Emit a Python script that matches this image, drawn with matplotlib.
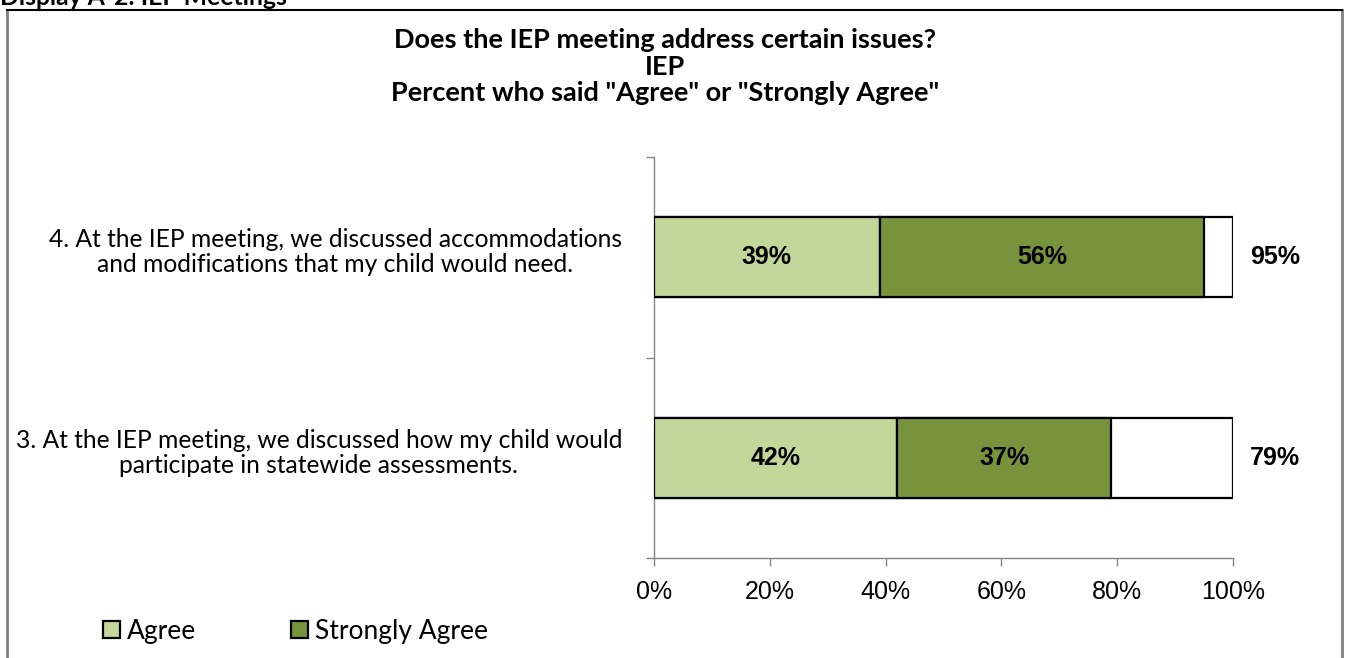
import matplotlib
matplotlib.use("Agg")
import matplotlib.pyplot as plt
from matplotlib.patches import Patch
from matplotlib.lines import Line2D
from matplotlib.transforms import blended_transform_factory

# Survey items (bottom to top) and their response shares
items = [
    "3. At the IEP meeting, we discussed how my child would\nparticipate in statewide assessments.",
    "4. At the IEP meeting, we discussed accommodations\nand modifications that my child would need.",
]
agree = [0.42, 0.39]
strongly_agree = [0.37, 0.56]
xticks = [0, 0.2, 0.4, 0.6, 0.8, 1.0]
xtick_labels = ["0%", "20%", "40%", "60%", "80%", "100%"]
title_lines = ["Does the IEP meeting address certain issues?", "IEP",
               "Percent who said \"Agree\" or \"Strongly Agree\""]

light_green = "#C4D79B"
dark_green = "#77933C"
axis_gray = "#868686"
calibri_like = "Lato"
arial_like = "Liberation Sans"

W, H = 1347, 658
fig = plt.figure(figsize=(W / 100, H / 100), dpi=100)
fig.patch.set_facecolor("white")

ax = fig.add_axes([654 / W, 1 - 558 / H, 579 / W, 401 / H])

ypos = list(range(len(items)))
totals = [a + s for a, s in zip(agree, strongly_agree)]

# full-width white bar behind the stacked segments
ax.barh(ypos, [1.0] * len(items), height=0.4, color="white", edgecolor="black", linewidth=1.6, zorder=2)
ax.barh(ypos, agree, height=0.4, color=light_green, edgecolor="black", linewidth=1.6, zorder=3)
ax.barh(ypos, strongly_agree, left=agree, height=0.4, color=dark_green, edgecolor="black", linewidth=1.6, zorder=3)

for y, a, s, t in zip(ypos, agree, strongly_agree, totals):
    ax.text(a / 2, y, f"{a:.0%}", ha="center", va="center", fontsize=18,
            fontweight="bold", family=arial_like, zorder=4)
    ax.text(a + s / 2, y, f"{s:.0%}", ha="center", va="center", fontsize=18,
            fontweight="bold", family=arial_like, zorder=4)
    ax.annotate(f"{t:.0%}", xy=(1.0, y), xytext=(30, 0), textcoords="offset points",
                ha="center", va="center", fontsize=18, fontweight="bold", family=arial_like)

ax.set_xlim(0, 1)
ax.set_ylim(-0.5, len(items) - 0.5)
ax.set_xticks(xticks)
ax.set_xticklabels(xtick_labels, fontsize=18, family=arial_like)
ax.set_yticks([-0.5, 0.5, 1.5])
ax.set_yticklabels([])
ax.tick_params(axis="both", direction="out", length=6, width=1, color=axis_gray)
ax.tick_params(axis="x", pad=10)
for side in ["top", "right"]:
    ax.spines[side].set_visible(False)
for side in ["left", "bottom"]:
    ax.spines[side].set_color(axis_gray)
    ax.spines[side].set_linewidth(1)

# category labels: right-aligned block, lines centred within it
label_trans = blended_transform_factory(fig.transFigure, ax.transData)
for y, text in zip(ypos, items):
    ax.annotate(text, xy=(622 / W, y), xycoords=label_trans, xytext=(0, 3.5),
                textcoords="offset points", ha="right", va="center",
                multialignment="center", fontsize=17.7, family=calibri_like, linespacing=1.1)

for line, ty in zip(title_lines, [40, 67, 93]):
    fig.text(665 / W, 1 - ty / H, line, ha="center", va="center", fontsize=19.5,
             fontweight="bold", family=calibri_like)

# legend along the bottom
handles = [Patch(facecolor=light_green, edgecolor="black", linewidth=1.6),
           Patch(facecolor=dark_green, edgecolor="black", linewidth=1.6)]
fig.legend(handles, ["Agree", "Strongly Agree"], loc="center left",
           bbox_to_anchor=(103 / W, 1 - 631 / H), ncol=2, frameon=False,
           prop={"family": calibri_like, "size": 19}, handlelength=0.64, handleheight=0.64,
           handletextpad=0.27, columnspacing=3.6, borderpad=0, borderaxespad=0)

# chart frame and clipped heading above it
fig.add_artist(Line2D([7 / W, 7 / W], [1 - 10 / H, 0], transform=fig.transFigure, color="#808080", linewidth=2))
fig.add_artist(Line2D([1342 / W, 1342 / W], [1 - 10 / H, 0], transform=fig.transFigure, color="#808080", linewidth=2))
fig.add_artist(Line2D([7 / W, 1342 / W], [1 - 10 / H, 1 - 10 / H], transform=fig.transFigure, color="black", linewidth=1.5))
fig.text(0 / W, 1 - 5 / H, "Display A-2: IEP Meetings", ha="left", va="baseline",
         fontsize=17.8, fontweight="bold", family=calibri_like)

fig.savefig("out.png", dpi=100)
